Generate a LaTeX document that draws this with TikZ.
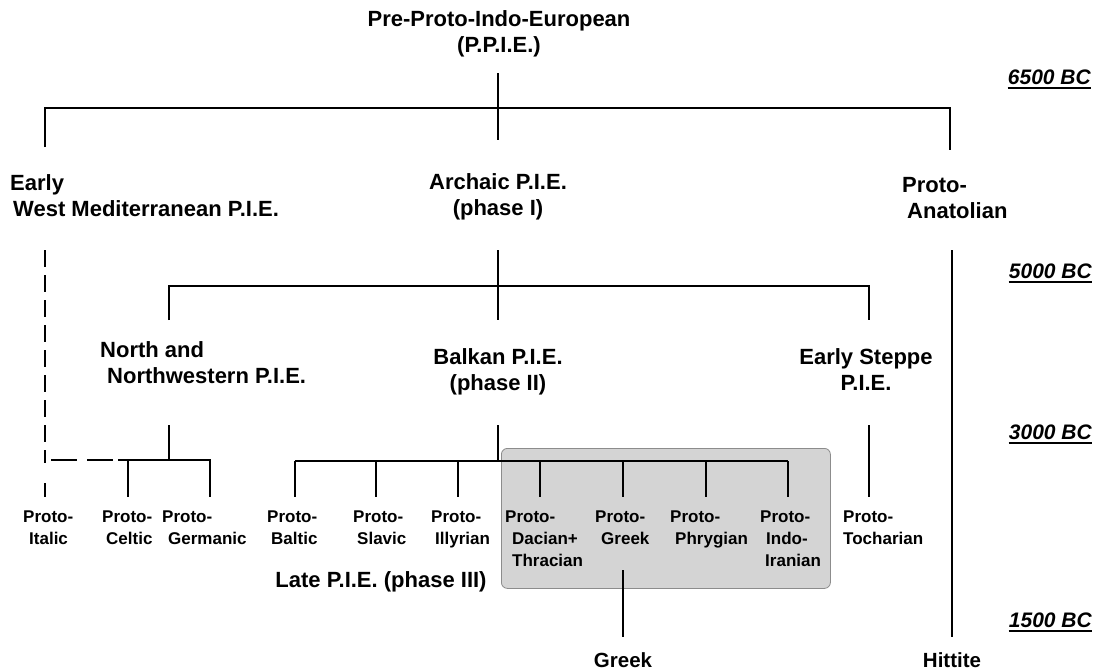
\documentclass[tikz,border=0pt]{standalone}
\usepackage{fontspec}
\setmainfont{Liberation Sans}
\begin{document}
\begin{tikzpicture}[x=1pt,y=-1pt,
  lab/.style={font=\bfseries\fontsize{22}{26}\selectfont, inner sep=0pt, align=center},
  labl/.style={font=\bfseries\fontsize{22}{26}\selectfont, inner sep=0pt, align=left, anchor=west},
  leaf/.style={font=\bfseries\fontsize{17}{22}\selectfont, inner sep=0pt, align=left, anchor=north west},
  datelab/.style={font=\bfseries\itshape\fontsize{21}{24}\selectfont, inner xsep=0pt, inner ysep=3.6pt, anchor=east,
    append after command={(\tikzlastnode.south west) edge[line width=1.7pt] (\tikzlastnode.south east)}},
  br/.style={line width=2.3pt},
  dsh/.style={line width=2.3pt, dash pattern=on 17pt off 8pt},
  grouped/.style={rounded corners=6pt, fill=black!17, draw=black!45, line width=0.8pt}]
\useasboundingbox (0,0) rectangle (1110,670);

% grey group box (Late P.I.E. eastern branch)
\node[grouped, minimum width=329pt, minimum height=140pt, anchor=north west, inner sep=0pt] (grp) at (501,448) {};

% labels
\node[lab] (ppie) at (499,34) {Pre-Proto-Indo-European\\(P.P.I.E.)};
\node[labl] (ewm) at (10,196) {Early\\\hspace{3pt}West Mediterranean P.I.E.};
\node[lab] (arch) at (498,197) {Archaic P.I.E.\\(phase I)};
\node[labl] (anat) at (902,198) {Proto-\\\hspace{5pt}Anatolian};
\node[labl] (nnw) at (100,363) {North and\\\hspace{7pt}Northwestern P.I.E.};
\node[lab] (balk) at (498,372) {Balkan P.I.E.\\(phase II)};
\node[lab] (step) at (866,370) {Early Steppe\\P.I.E.};
\node[lab] (late) at (381,582) {Late P.I.E. (phase III)};
\node[lab, font=\bfseries\fontsize{20.5}{24}\selectfont] (greek) at (623,660) {Greek};
\node[lab, font=\bfseries\fontsize{20.5}{24}\selectfont] (hitt) at (952,660) {Hittite};

% leaves
\node[leaf] (ital) at (23,511) {Proto-\\\hspace{6pt}Italic};
\node[leaf] (celt) at (102,511) {Proto-\\\hspace{4pt}Celtic};
\node[leaf] (germ) at (162,511) {Proto-\\\hspace{6pt}Germanic};
\node[leaf] (balt) at (267,511) {Proto-\\\hspace{4pt}Baltic};
\node[leaf] (slav) at (353,511) {Proto-\\\hspace{4pt}Slavic};
\node[leaf] (illy) at (431,511) {Proto-\\\hspace{4pt}Illyrian};
\node[leaf] (daci) at (505,511) {Proto-\\\hspace{7pt}Dacian+\\\hspace{7pt}Thracian};
\node[leaf] (pgrk) at (595,511) {Proto-\\\hspace{6pt}Greek};
\node[leaf] (phry) at (670,511) {Proto-\\\hspace{5pt}Phrygian};
\node[leaf] (indo) at (760,511) {Proto-\\\hspace{6pt}Indo-\\\hspace{5pt}Iranian};
\node[leaf] (toch) at (843,511) {Proto-\\Tocharian};

% dates
\node[datelab] (d6500) at (1091,77) {6500 BC};
\node[datelab] (d5000) at (1092,271) {5000 BC};
\node[datelab] (d3000) at (1092,432) {3000 BC};
\node[datelab] (d1500) at (1092,620) {1500 BC};

% junction / end coordinates
\coordinate (t0) at (498,73);
\coordinate (t1) at (498,108);
\coordinate (t2) at (498,140);
\coordinate (tl) at (45,108);
\coordinate (tle) at (45,147);
\coordinate (tr) at (950,108);
\coordinate (tre) at (950,150);

\coordinate (a0) at (498,250);
\coordinate (a1) at (498,286);
\coordinate (a2) at (498,320);
\coordinate (al) at (169,286);
\coordinate (ale) at (169,320);
\coordinate (ar) at (869,286);
\coordinate (are) at (869,320);

\coordinate (h0) at (952,250);
\coordinate (h1) at (952,637);

\coordinate (w0) at (45,250);
\coordinate (w1) at (45,460);
\coordinate (w2) at (45,497);
\coordinate (wj) at (118,460);

\coordinate (n0) at (169,425);
\coordinate (n1) at (169,460);
\coordinate (nc) at (128,460);
\coordinate (nce) at (128,497);
\coordinate (ng) at (210,460);
\coordinate (nge) at (210,497);

\coordinate (b0) at (498,425);
\coordinate (b1) at (498,461);
\coordinate (bl) at (295,461);
\coordinate (br) at (788,461);

\coordinate (s0) at (869,425);
\coordinate (s1) at (869,497);

\coordinate (g0) at (623,570);
\coordinate (g1) at (623,637);

% first split
\draw[br] (t0) -- (t2);
\draw[br] (tle) -- (tl) -- (tr) -- (tre);

% second split
\draw[br] (a0) -- (a2);
\draw[br] (ale) -- (al) -- (ar) -- (are);

% Anatolian to Hittite
\draw[br] (h0) -- (h1);

% West Mediterranean (dashed) to Proto-Italic
\draw[dsh] (w0) -- (w1);
\draw[br, dash pattern=on 26pt off 10pt, dash phase=-6pt] (w1) -- (wj);
\draw[br, dash pattern=on 3pt off 20pt on 14pt] (w1) -- (w2);

% North and Northwestern
\draw[br] (n0) -- (n1);
\draw[br] (wj) -- (ng) -- (nge);
\draw[br] (nc) -- (nce);

% Balkan / Late PIE
\draw[br] (b0) -- (b1);
\draw[br] (bl) -- (br);
\foreach \x in {295,376,458,540,623,706,788} {
  \draw[br] (\x,461) -- (\x,497);
}

% Early Steppe to Tocharian
\draw[br] (s0) -- (s1);

% Proto-Greek to Greek
\draw[br] (g0) -- (g1);
\end{tikzpicture}
\end{document}
